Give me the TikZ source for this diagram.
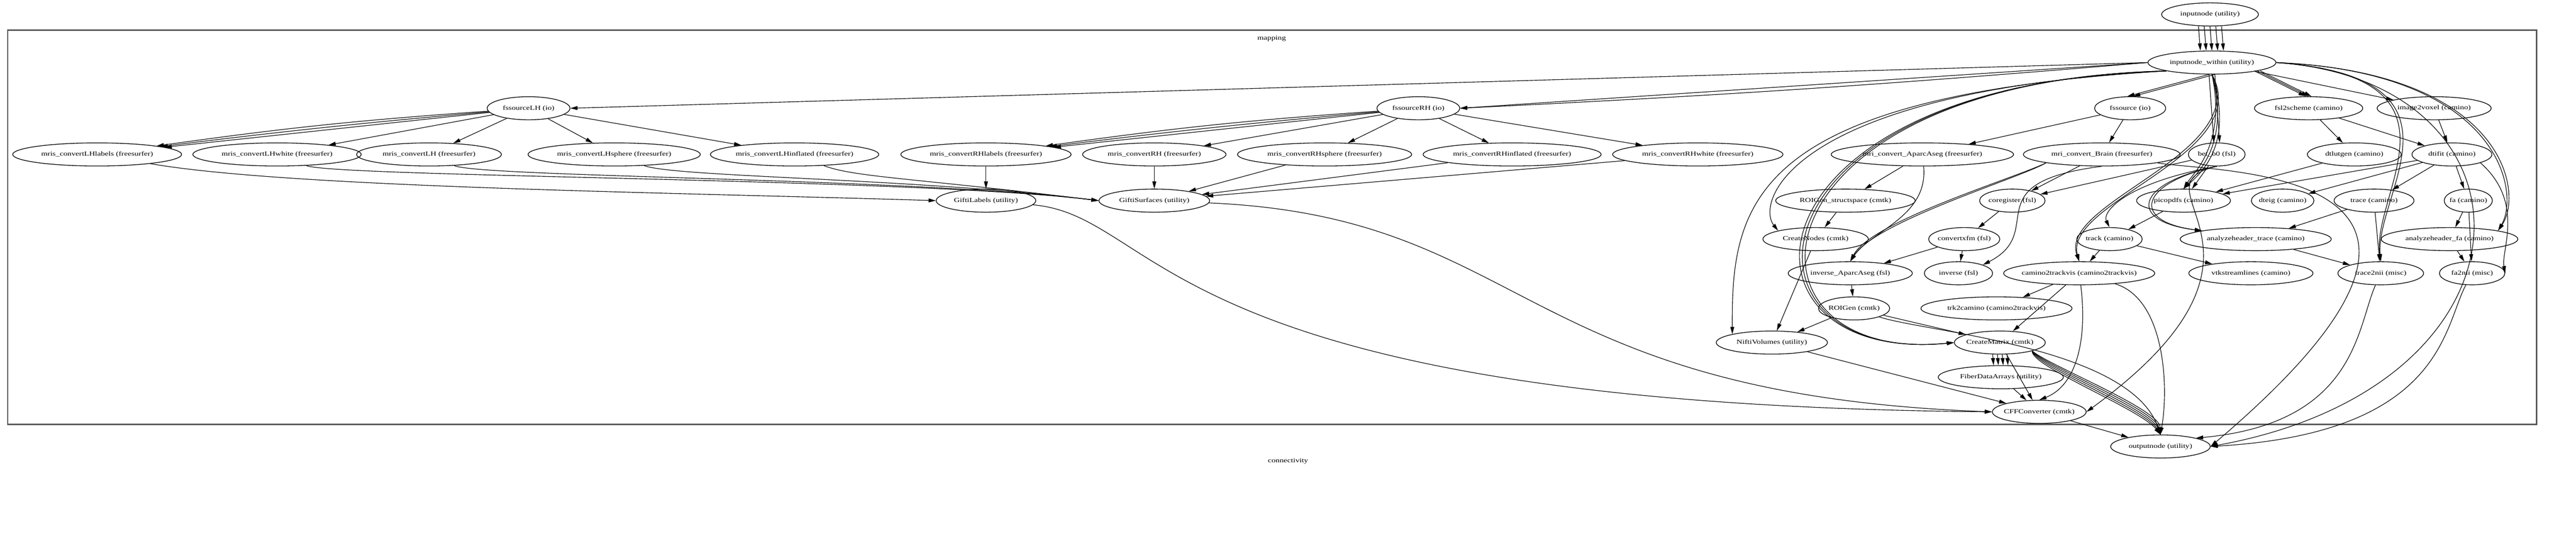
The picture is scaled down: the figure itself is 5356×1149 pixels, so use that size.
\documentclass[tikz,border=0pt]{standalone}
\usepackage{fontspec}
\setmainfont{Liberation Serif}
\usetikzlibrary{shapes.geometric,arrows.meta}
\newcommand\lbl[1]{\makebox[0pt]{\scalebox{1.3}[1]{\fontsize{3.7}{4}\selectfont #1}}}
\tikzset{
 n/.style={ellipse,draw,line width=0.4pt,inner sep=0pt,minimum height=0.48cm},
 e/.style={-{Triangle[length=0.15cm,width=0.08cm]},line width=0.35pt},
 frame/.style={draw=black!65,line width=0.8pt}
}
\begin{document}
\begin{tikzpicture}[x=0.01cm,y=-0.01cm]
\useasboundingbox (0,0) rectangle (5356,1149);
\draw[frame] (16,63) rectangle (5274,882);
\node (mlab) at (2644,80) {\lbl{mapping}};
\node (clab) at (2678,958) {\lbl{connectivity}};
% nodes
\node[n,minimum width=2.01cm] (in) at (4595,30) {\lbl{inputnode (utility)}};
\node[n,minimum width=2.66cm] (within) at (4599,130) {\lbl{inputnode\_within (utility)}};
\node[n,minimum width=1.72cm] (fsLH) at (1099,225) {\lbl{fssourceLH (io)}};
\node[n,minimum width=1.72cm] (fsRH) at (2949,225) {\lbl{fssourceRH (io)}};
\node[n,minimum width=1.48cm] (fss) at (4429,225) {\lbl{fssource (io)}};
\node[n,minimum width=2.25cm] (f2s) at (4800,225) {\lbl{fsl2scheme (camino)}};
\node[n,minimum width=2.37cm] (i2v) at (5061,225) {\lbl{image2voxel (camino)}};
\node[n,minimum width=3.51cm] (lhl) at (202,321) {\lbl{mris\_convertLHlabels (freesurfer)}};
\node[n,minimum width=3.50cm] (lhw) at (576,321) {\lbl{mris\_convertLHwhite (freesurfer)}};
\node[n,minimum width=3.01cm] (lh) at (892,321) {\lbl{mris\_convertLH (freesurfer)}};
\node[n,minimum width=3.58cm] (lhs) at (1277,321) {\lbl{mris\_convertLHsphere (freesurfer)}};
\node[n,minimum width=3.50cm] (lhi) at (1652,321) {\lbl{mris\_convertLHinflated (freesurfer)}};
\node[n,minimum width=3.54cm] (rhl) at (2050,321) {\lbl{mris\_convertRHlabels (freesurfer)}};
\node[n,minimum width=2.98cm] (rh) at (2400,321) {\lbl{mris\_convertRH (freesurfer)}};
\node[n,minimum width=3.62cm] (rhs) at (2754,321) {\lbl{mris\_convertRHsphere (freesurfer)}};
\node[n,minimum width=3.70cm] (rhi) at (3144,321) {\lbl{mris\_convertRHinflated (freesurfer)}};
\node[n,minimum width=3.54cm] (rhw) at (3530,321) {\lbl{mris\_convertRHwhite (freesurfer)}};
\node[n,minimum width=3.79cm] (aparc) at (3997,321) {\lbl{mri\_convert\_AparcAseg (freesurfer)}};
\node[n,minimum width=3.26cm] (brain) at (4370,321) {\lbl{mri\_convert\_Brain (freesurfer)}};
\node[n,minimum width=1.18cm] (bet) at (4609,321) {\lbl{bet\_b0 (fsl)}};
\node[n,minimum width=1.95cm] (dtl) at (4895,321) {\lbl{dtlutgen (camino)}};
\node[n,minimum width=1.66cm] (dtf) at (5098,321) {\lbl{dtifit (camino)}};
\node[n,minimum width=2.07cm] (gl) at (2050,417) {\lbl{GiftiLabels (utility)}};
\node[n,minimum width=2.30cm] (gs) at (2400,417) {\lbl{GiftiSurfaces (utility)}};
\node[n,minimum width=2.90cm] (roiss) at (3837,417) {\lbl{ROIGen\_structspace (cmtk)}};
\node[n,minimum width=1.36cm] (coreg) at (4184,417) {\lbl{coregister (fsl)}};
\node[n,minimum width=1.95cm] (pico) at (4540,417) {\lbl{picopdfs (camino)}};
\node[n,minimum width=1.30cm] (dteig) at (4746,417) {\lbl{dteig (camino)}};
\node[n,minimum width=1.66cm] (trace) at (4936,417) {\lbl{trace (camino)}};
\node[n,minimum width=1.00cm] (fa) at (5132,417) {\lbl{fa (camino)}};
\node[n,minimum width=2.19cm] (cnodes) at (3775,497) {\lbl{CreateNodes (cmtk)}};
\node[n,minimum width=1.48cm] (cxfm) at (4084,497) {\lbl{convertxfm (fsl)}};
\node[n,minimum width=1.36cm] (track) at (4386,497) {\lbl{track (camino)}};
\node[n,minimum width=3.14cm] (aht) at (4690,497) {\lbl{analyzeheader\_trace (camino)}};
\node[n,minimum width=2.84cm] (ahf) at (5093,497) {\lbl{analyzeheader\_fa (camino)}};
\node[n,minimum width=2.58cm] (invap) at (3847,568) {\lbl{inverse\_AparcAseg (fsl)}};
\node[n,minimum width=1.42cm] (inv) at (4072,568) {\lbl{inverse (fsl)}};
\node[n,minimum width=3.14cm] (c2t) at (4323,568) {\lbl{camino2trackvis (camino2trackvis)}};
\node[n,minimum width=2.58cm] (vtk) at (4680,568) {\lbl{vtkstreamlines (camino)}};
\node[n,minimum width=1.78cm] (t2n) at (4950,568) {\lbl{trace2nii (misc)}};
\node[n,minimum width=1.36cm] (fa2n) at (5140,568) {\lbl{fa2nii (misc)}};
\node[n,minimum width=1.48cm] (roigen) at (3855,641) {\lbl{ROIGen (cmtk)}};
\node[n,minimum width=3.14cm] (trk) at (4151,641) {\lbl{trk2camino (camino2trackvis)}};
\node[n,minimum width=2.31cm] (nifti) at (3684,712) {\lbl{NiftiVolumes (utility)}};
\node[n,minimum width=1.89cm] (cmat) at (4158,712) {\lbl{CreateMatrix (cmtk)}};
\node[n,minimum width=2.60cm] (fda) at (4160,784) {\lbl{FiberDataArrays (utility)}};
\node[n,minimum width=1.95cm] (cff) at (4240,856) {\lbl{CFFConverter (cmtk)}};
\node[n,minimum width=2.07cm] (out) at (4492,928) {\lbl{outputnode (utility)}};
% edges
\foreach \d in {-24,-12,0,12,24} \draw[e] ([xshift=\d*0.01cm]in.south) -- ([xshift=\d*0.01cm]within.north);
\draw[e] (within.west) -- (fsLH.east);
\foreach \b in {0,1} \draw[e] (within.west) to[bend left=\b] (fsRH.east);
\foreach \d in {-6,6} \draw[e] ([xshift=\d*0.01cm]within.south) -- ([xshift=\d*0.01cm]fss.north);
\foreach \d in {-6,6} \draw[e] ([xshift=\d*0.01cm]within.south) -- ([xshift=\d*0.01cm]bet.north);
\foreach \d in {-6,0,6} \draw[e] ([xshift=\d*0.01cm]within.south east) -- ([xshift=\d*0.01cm]f2s.north);
\draw[e] (within) -- (i2v);
\draw[e] (within.south west) .. controls (3640,200) and (3600,420) .. (nifti.north west);
\foreach \s in {0,8,16} \draw[e] (within.south west) .. controls (3600+\s,170) and (3570+\s,760) .. (cmat.west);
\draw[e] (within.south west) .. controls (3720,190) and (3650,420) .. (cnodes.north west);
\foreach \s in {0,8,16} \draw[e] (within.south) .. controls (4630+\s,300) and (4560+\s,360) .. (pico.north);
\foreach \s in {0,10} \draw[e] (within.south) .. controls (4680+\s,320) and (4280+\s,420) .. (c2t.north);
\foreach \s in {0,8} \draw[e] (within.east) .. controls (5200+\s,150) and (5240+\s,400) .. (ahf.north east);
\foreach \s in {0,8} \draw[e] (within.east) .. controls (5150+\s,160) and (4930+\s,400) .. (t2n.north);
\draw[e] (within.east) .. controls (5300,170) and (5300,800) .. (out.east);
\foreach \b in {0,1,2} \draw[e] (fsLH) to[bend right=\b] (lhl);
\foreach \t in {lhw,lh,lhs,lhi} \draw[e] (fsLH) -- (\t);
\foreach \b in {0,1,2} \draw[e] (fsRH) to[bend right=\b] (rhl);
\foreach \t in {rh,rhs,rhi,rhw} \draw[e] (fsRH) -- (\t);
\draw[e] (lhl) .. controls (600,390) and (1400,400) .. (gl.west);
\foreach \t in {lhw,lh,lhs,lhi} \draw[e] (\t) .. controls ([yshift=-0.3cm]\t.south east) and (1900,370) .. (gs.west);
\draw[e] (rhl) -- (gl); \draw[e] (rh) -- (gs);
\foreach \t in {rhs,rhi,rhw} \draw[e] (\t) -- (gs);
\draw[e] (gl) .. controls (2420,450) and (2400,840) .. (cff.west);
\draw[e] (gs) .. controls (3180,450) and (3150,820) .. (cff.west);
\draw[e] (fss) -- (aparc); \draw[e] (fss) -- (brain);
\draw[e] (f2s) -- (dtl); \draw[e] (f2s) -- (dtf); \draw[e] (i2v) -- (dtf);
\draw[e] (aparc) -- (roiss);
\draw[e] (aparc) .. controls (4010,450) and (3890,480) .. (invap.north);
\draw[e] (roiss) -- (cnodes); \draw[e] (cnodes) -- (nifti);
\draw[e] (brain) -- (coreg); \draw[e] (bet) -- (coreg);
\draw[e] (coreg) -- (cxfm);
\draw[e] (cxfm) -- (invap); \draw[e] (cxfm) -- (inv);
\foreach \s in {0,10} \draw[e] (brain.south west) .. controls (4200-\s,370) and (3900-\s,460) .. (invap.north);
\draw[e] (brain.south) .. controls (4100,380) and (4260,480) .. (inv.north east);
\draw[e] (brain.south east) .. controls (4600,360) and (5290,340) .. (out.east);
\draw[e] (dtl) -- (pico);
\foreach \t in {pico,dteig,trace,fa} \draw[e] (dtf) -- (\t);
\draw[e] (dtf.south east) .. controls (5250,420) and (5200,520) .. (fa2n.east);
\draw[e] (bet) -- (pico);
\draw[e] (bet.south) .. controls (4420,380) and (4370,440) .. (track.north);
\foreach \s in {0,8} \draw[e] (bet.south) .. controls (4440+\s,380) and (4420+\s,460) .. (aht.north west);
\draw[e] (bet.south) .. controls (4420,390) and (4800,520) .. (cff.east);
\draw[e] (pico) -- (track);
\draw[e] (track) -- (c2t); \draw[e] (track) -- (vtk);
\draw[e] (trace) -- (aht); \draw[e] (trace) -- (t2n);
\draw[e] (fa) -- (ahf); \draw[e] (fa) -- (fa2n);
\draw[e] (aht) -- (t2n); \draw[e] (ahf) -- (fa2n);
\draw[e] (invap) -- (roigen);
\draw[e] (roigen) -- (nifti); \draw[e] (roigen) -- (cmat);
\draw[e] (roigen) .. controls (4000,690) and (4430,720) .. (out.north);
\draw[e] (c2t) -- (trk);
\draw[e] (c2t) -- (cmat);
\draw[e] (c2t) .. controls (4340,700) and (4320,800) .. (cff.north);
\draw[e] (c2t) .. controls (4500,620) and (4510,800) .. (out.north);
\foreach \d in {-15,-5,5,15} \draw[e] ([xshift=\d*0.01cm]cmat.south) -- ([xshift=\d*0.01cm]fda.north);
\draw[e] (cmat) -- (cff);
\foreach \s in {-20,-10,0,10,20} \draw[e] (cmat.south east) .. controls (4240+\s,760) and (4470+\s,850) .. (out.north);
\draw[e] (fda) -- (cff); \draw[e] (nifti) -- (cff); \draw[e] (cff) -- (out);
\draw[e] (t2n) .. controls (4900,680) and (4900,880) .. (out.north east);
\draw[e] (fa2n) .. controls (5080,680) and (5080,900) .. (out.east);
\end{tikzpicture}
\end{document}
